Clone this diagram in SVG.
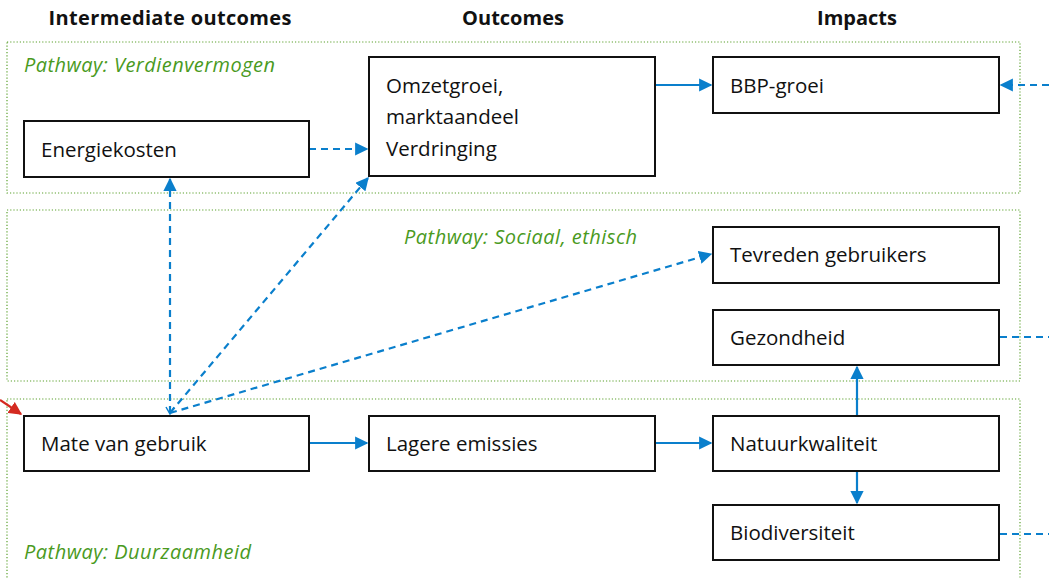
<svg xmlns="http://www.w3.org/2000/svg" width="1049" height="579" viewBox="0 0 1049 579">
<style>
.hdr{font-family:"Open Sans","Liberation Sans",sans-serif;font-weight:bold;font-size:20px;fill:#111;text-anchor:middle}
.pw{fill:none;stroke:#5aa02c;stroke-width:1.2;stroke-dasharray:1.2 2}
.pwt{font-family:"Open Sans","Liberation Sans",sans-serif;font-style:italic;font-size:20px;fill:#4a9a1e}
.box{fill:#fff;stroke:#111;stroke-width:2}
.lbl{font-family:"Open Sans","Liberation Sans",sans-serif;font-size:20.5px;fill:#111}
.c{fill:none;stroke:#0a7fcc;stroke-width:2.2}
.d{stroke-dasharray:7 5}
</style>
<defs>
<marker id="ah" viewBox="0 0 10 10" refX="9" refY="5" markerWidth="6" markerHeight="6" orient="auto" markerUnits="strokeWidth">
<path d="M0,0 L10,5 L0,10 Z" fill="#0a7fcc"/>
</marker>
<marker id="ahr" viewBox="0 0 10 10" refX="9" refY="5" markerWidth="6" markerHeight="6" orient="auto" markerUnits="strokeWidth">
<path d="M0,0 L10,5 L0,10 Z" fill="#d42a20"/>
</marker>
</defs>
<g id="headers">
<text class="hdr" x="170" y="25" textLength="243">Intermediate outcomes</text>
<text class="hdr" x="513" y="25">Outcomes</text>
<text class="hdr" x="857" y="25">Impacts</text>
</g>
<g id="pathways">
<rect class="pw" x="7" y="42" width="1013" height="151"/>
<rect class="pw" x="7" y="210" width="1013" height="171"/>
<rect class="pw" x="7" y="399" width="1013" height="185"/>
<text class="pwt" x="24" y="72" textLength="251">Pathway: Verdienvermogen</text>
<text class="pwt" x="404" y="244" textLength="233">Pathway: Sociaal, ethisch</text>
<text class="pwt" x="24" y="559" textLength="227">Pathway: Duurzaamheid</text>
</g>
<g id="connectors">
<line class="c d" x1="309" y1="149" x2="367" y2="149" marker-end="url(#ah)"/>
<line class="c" x1="655" y1="85" x2="711" y2="85" marker-end="url(#ah)"/>
<line class="c d" x1="1049" y1="85" x2="1001" y2="85" marker-end="url(#ah)"/>
<line class="c d" x1="170" y1="413" x2="170" y2="179" marker-end="url(#ah)"/>
<line class="c d" x1="170" y1="413" x2="368" y2="178" marker-end="url(#ah)"/>
<line class="c d" x1="170" y1="413" x2="711" y2="254" marker-end="url(#ah)"/>
<path d="M166,407 L170,414 L174,407" fill="none" stroke="#0a7fcc" stroke-width="1.5"/>
<line class="c" x1="309" y1="443" x2="367" y2="443" marker-end="url(#ah)"/>
<line class="c" x1="655" y1="443" x2="711" y2="443" marker-end="url(#ah)"/>
<line class="c" x1="857" y1="415" x2="857" y2="367" marker-end="url(#ah)"/>
<line class="c" x1="857" y1="472" x2="857" y2="503" marker-end="url(#ah)"/>
<line class="c d" x1="1000" y1="337" x2="1049" y2="337"/>
<line class="c d" x1="1000" y1="534" x2="1049" y2="534"/>
<line x1="0" y1="400" x2="21" y2="414" stroke="#d42a20" stroke-width="2.2" marker-end="url(#ahr)"/>
</g>
<g id="energiekosten"><rect class="box" x="24" y="121" width="285" height="56"/><text class="lbl" x="41" y="157">Energiekosten</text></g>
<g id="omzetgroei"><rect class="box" x="369" y="57" width="286" height="119"/><text class="lbl" x="386" y="93">Omzetgroei,</text><text class="lbl" x="386" y="124">marktaandeel</text><text class="lbl" x="386" y="156">Verdringing</text></g>
<g id="bbp"><rect class="box" x="713" y="57" width="286" height="56"/><text class="lbl" x="730" y="93">BBP-groei</text></g>
<g id="tevreden"><rect class="box" x="713" y="227" width="286" height="56"/><text class="lbl" x="730" y="262">Tevreden gebruikers</text></g>
<g id="gezondheid"><rect class="box" x="713" y="310" width="286" height="55"/><text class="lbl" x="730" y="345">Gezondheid</text></g>
<g id="mate"><rect class="box" x="24" y="416" width="285" height="55"/><text class="lbl" x="41" y="451">Mate van gebruik</text></g>
<g id="lagere"><rect class="box" x="369" y="416" width="286" height="55"/><text class="lbl" x="386" y="451">Lagere emissies</text></g>
<g id="natuur"><rect class="box" x="713" y="416" width="286" height="55"/><text class="lbl" x="730" y="451">Natuurkwaliteit</text></g>
<g id="biodiv"><rect class="box" x="713" y="505" width="286" height="55"/><text class="lbl" x="730" y="540">Biodiversiteit</text></g>
</svg>
